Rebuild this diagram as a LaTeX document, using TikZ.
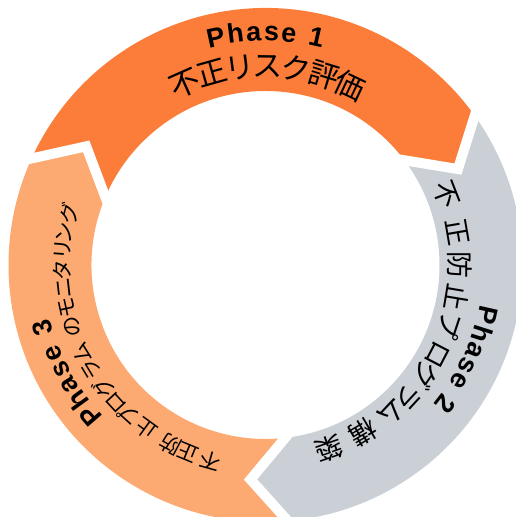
\documentclass[tikz,border=0pt]{standalone}
\usepackage{fontspec}
\setmainfont{Liberation Sans}
\newfontfamily\jp{Noto Sans CJK JP}
\usetikzlibrary{calc}
\definecolor{segA}{RGB}{252,125,58}
\definecolor{segB}{RGB}{203,208,214}
\definecolor{segC}{RGB}{252,170,114}
\newcommand\Ro{257}
\newcommand\Ri{174}
\newcommand\Rm{215}
\newcommand\ringseg[3]{%
  \fill[#3] ($(C)+(#1:\Ro)$) arc[start angle=#1, end angle=#2, radius=\Ro]
    -- ($(C)+({#2-9}:\Rm)$) -- ($(C)+({#2+1.5}:\Ri)$)
    arc[start angle={#2+1.5}, end angle={#1+1.5}, radius=\Ri]
    -- ($(C)+({#1-9}:\Rm)$) -- cycle;}
\newcommand\ringgap[2]{%
  \coordinate (#2o) at ($(C)+(#1:\Ro)$);
  \coordinate (#2m) at ($(C)+({#1-9}:\Rm)$);
  \coordinate (#2i) at ($(C)+({#1+1.5}:\Ri)$);
  \draw[gapline] ($(#2m)!1.4!(#2o)$) -- (#2m) -- ($(#2m)!1.4!(#2i)$);}
\tikzset{
  gapline/.style={white, line width=10pt, line join=miter},
  phasetxt/.style={font=\bfseries\fontsize{27}{32}\selectfont, anchor=base, inner sep=0pt},
  jpA/.style={font=\jp\fontsize{30}{36}\selectfont, anchor=center, inner sep=0pt},
  jpB/.style={font=\jp\fontsize{27}{32}\selectfont, anchor=center, inner sep=0pt},
  jpC/.style={font=\jp\fontsize{21}{25}\selectfont, anchor=center, inner sep=0pt}
}
\begin{document}
\begin{tikzpicture}[x=1pt,y=1pt]
\useasboundingbox (0,0) rectangle (515,517);
\coordinate (C) at (265.5,252);
% segments
\ringseg{155.5}{35.5}{segA}
\ringseg{35.5}{-85}{segB}
\ringseg{275}{155.5}{segC}
% gaps
\ringgap{35.5}{g1}
\ringgap{155.5}{g2}
\ringgap{275}{g3}
% Phase labels
\foreach \a/\c [count=\k] in {102.3/P,97.4/h,92.9/a,88.5/s,84.2/e,77.3/1}
  \node[phasetxt, rotate=\a-90] (pa\k) at ($(C)+(\a:224)$) {\c};
\foreach \a/\c [count=\k] in {-12.7/P,-17.6/h,-22.1/a,-26.5/s,-30.8/e,-37.7/2}
  \node[phasetxt, rotate=\a-90] (pb\k) at ($(C)+(\a:218)$) {\c};
\foreach \a/\c [count=\k] in {220.8/P,215.9/h,211.4/a,207/s,202.7/e,195.8/3}
  \node[phasetxt, rotate=\a-90] (pc\k) at ($(C)+(\a:222)$) {\c};
% Japanese texts
\foreach \a/\c [count=\k] in {113.9/不,105.7/正,97.5/リ,89.3/ス,81.1/ク,72.9/評,64.7/価}
  \node[jpA, rotate=\a-90] (ja\k) at ($(C)+(\a:198.5)$) {\vphantom{不}\c};
\foreach \a/\c [count=\k] in {21.3/不,9.7/正,0/防,-9.5/止,-18.2/プ,-27.5/ロ,-34.6/グ,-42.7/ラ,-49.6/ム,-59.7/構,-70.9/築}
  \node[jpB, rotate=\a-90] (jb\k) at ($(C)+(\a:194)$) {\vphantom{不}\c};
\foreach \a/\c [count=\k] in {254.3/不,247.6/正,242/防,233.9/止,227.8/プ,222.7/ロ,217.2/グ,211/ラ,205.7/ム,197.8/の,192.2/モ,186.5/ニ,181.4/タ,175.7/リ,170.8/ン,165.1/グ}
  \node[jpC, rotate=\a-90] (jc\k) at ($(C)+(\a:203)$) {\vphantom{不}\c};
\end{tikzpicture}
\end{document}
